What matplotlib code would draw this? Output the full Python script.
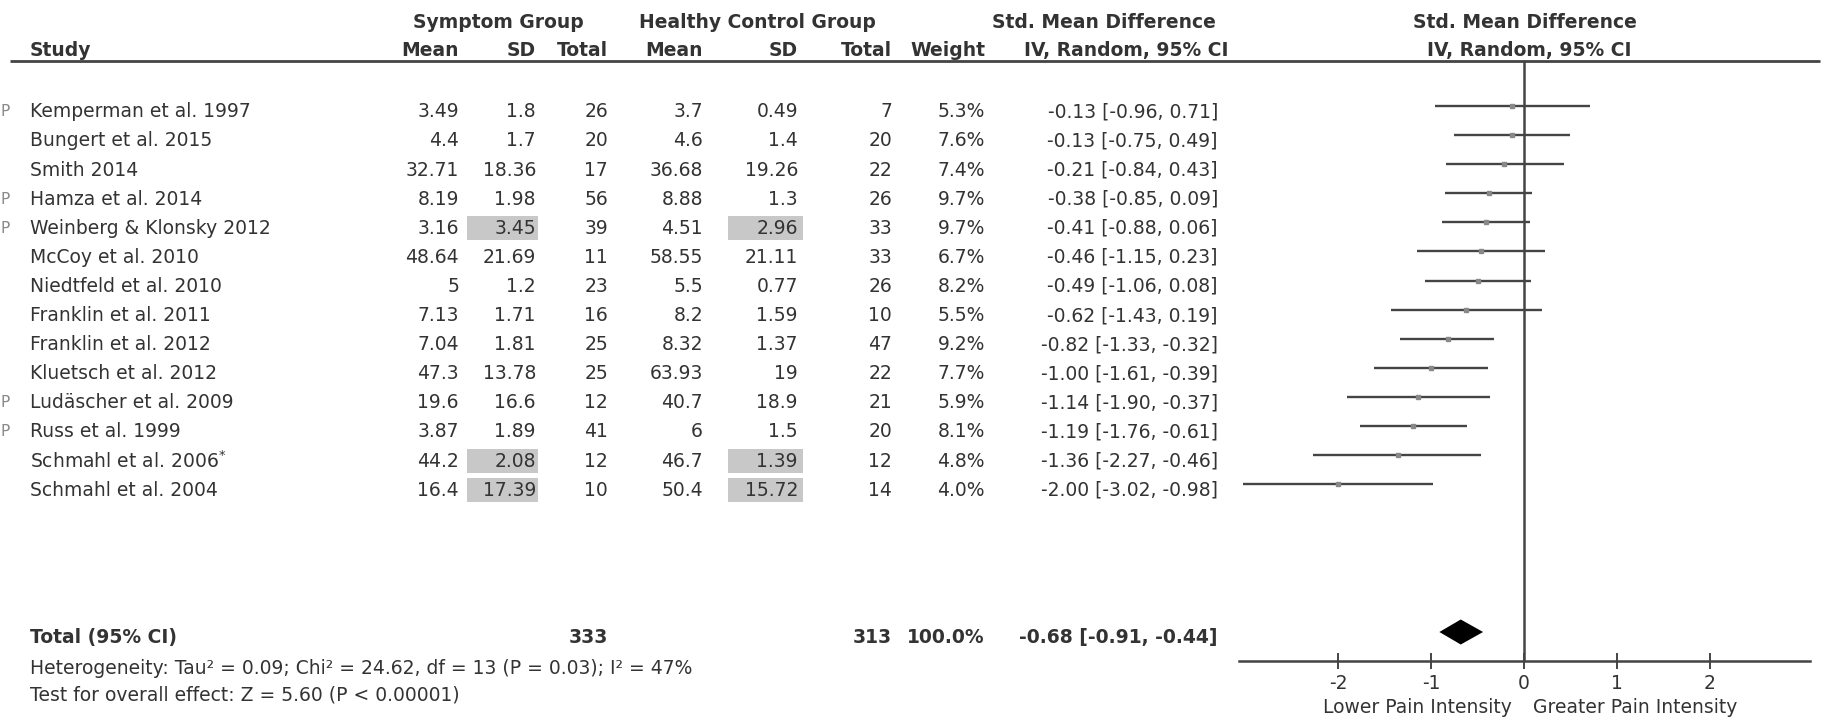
import matplotlib.pyplot as plt
from matplotlib.patches import Rectangle

studies = ["Kemperman et al. 1997", "Bungert et al. 2015", "Smith 2014", "Hamza et al. 2014",
           "Weinberg & Klonsky 2012", "McCoy et al. 2010", "Niedtfeld et al. 2010",
           "Franklin et al. 2011", "Franklin et al. 2012", "Kluetsch et al. 2012",
           "Ludäscher et al. 2009", "Russ et al. 1999", "Schmahl et al. 2006$^{*}$",
           "Schmahl et al. 2004"]
p_flag = [1, 0, 0, 1, 1, 0, 0, 0, 0, 0, 1, 1, 0, 0]
sym_mean = [3.49, 4.4, 32.71, 8.19, 3.16, 48.64, 5, 7.13, 7.04, 47.3, 19.6, 3.87, 44.2, 16.4]
sym_sd = [1.8, 1.7, 18.36, 1.98, 3.45, 21.69, 1.2, 1.71, 1.81, 13.78, 16.6, 1.89, 2.08, 17.39]
sym_n = [26, 20, 17, 56, 39, 11, 23, 16, 25, 25, 12, 41, 12, 10]
hc_mean = [3.7, 4.6, 36.68, 8.88, 4.51, 58.55, 5.5, 8.2, 8.32, 63.93, 40.7, 6, 46.7, 50.4]
hc_sd = [0.49, 1.4, 19.26, 1.3, 2.96, 21.11, 0.77, 1.59, 1.37, 19, 18.9, 1.5, 1.39, 15.72]
hc_n = [7, 20, 22, 26, 33, 33, 26, 10, 47, 22, 21, 20, 12, 14]
weight = [5.3, 7.6, 7.4, 9.7, 9.7, 6.7, 8.2, 5.5, 9.2, 7.7, 5.9, 8.1, 4.8, 4.0]
smd = [-0.13, -0.13, -0.21, -0.38, -0.41, -0.46, -0.49, -0.62, -0.82, -1.00, -1.14, -1.19, -1.36, -2.00]
ci_lo = [-0.96, -0.75, -0.84, -0.85, -0.88, -1.15, -1.06, -1.43, -1.33, -1.61, -1.90, -1.76, -2.27, -3.02]
ci_hi = [0.71, 0.49, 0.43, 0.09, 0.06, 0.23, 0.08, 0.19, -0.32, -0.39, -0.37, -0.61, -0.46, -0.98]
sd_shaded = [0, 0, 0, 0, 1, 0, 0, 0, 0, 0, 0, 0, 1, 1]

total_sym = 333
total_hc = 313
total_weight = 100.0
total_smd, total_lo, total_hi = -0.68, -0.91, -0.44
heterogeneity = "Heterogeneity: Tau² = 0.09; Chi² = 24.62, df = 13 (P = 0.03); I² = 47%"
overall = "Test for overall effect: Z = 5.60 (P < 0.00001)"
xticks = [-2, -1, 0, 1, 2]
favours = ["Lower Pain Intensity", "Greater Pain Intensity"]

# layout (pixels of the 1825x718 canvas)
W, H = 1825, 718
Y0, DY = 106, 29.1


def row(py):
    return (py - Y0) / DY


TXT = 0.2          # text sits a little below the CI line
TOTAL_ROW = row(632)
TXT_COL = "#333333"
LINE_COL = "#444444"
FS = 13.5

plt.rcParams["font.family"] = "DejaVu Sans"
plt.rcParams["mathtext.fontset"] = "dejavusans"

fig = plt.figure(figsize=(W / 100, H / 100), dpi=100)
ax = fig.add_axes([0, 0, 1, 1])
ax.set_xlim(0, W)
ax.set_ylim(row(H), row(0))
ax.axis("off")


def txt(x, y, s, ha="right", bold=False, size=FS, color=TXT_COL, **kw):
    ax.text(x, y, s, ha=ha, va="center", fontsize=size, color=color,
            fontweight="bold" if bold else "normal", zorder=3, **kw)


# header
h1, h2 = row(22), row(50)
txt(498, h1, "Symptom Group", ha="center", bold=True)
txt(757, h1, "Healthy Control Group", ha="center", bold=True)
txt(1104, h1, "Std. Mean Difference", ha="center", bold=True)
txt(1525, h1, "Std. Mean Difference", ha="center", bold=True)
txt(30, h2, "Study", ha="left", bold=True)
cols = [459, 536, 608, 703, 798, 892, 985]
for x, s in zip(cols, ["Mean", "SD", "Total", "Mean", "SD", "Total", "Weight"]):
    txt(x, h2, s, bold=True)
txt(1126, h2, "IV, Random, 95% CI", ha="center", bold=True)
txt(1529, h2, "IV, Random, 95% CI", ha="center", bold=True)
ax.plot([10, 1820], [row(61), row(61)], color=LINE_COL, lw=2, solid_capstyle="butt")

# study rows
for i, name in enumerate(studies):
    y = i + TXT
    if p_flag[i]:
        txt(1, y, "P", ha="left", size=11, color="#888888")
    txt(30, y, name, ha="left")
    if sd_shaded[i]:
        for x0, x1 in [(467, 538), (728, 803)]:
            ax.add_patch(Rectangle((x0, y - 0.42), x1 - x0, 0.84, color="#c8c8c8", lw=0, zorder=1))
    vals = [sym_mean[i], sym_sd[i], sym_n[i], hc_mean[i], hc_sd[i], hc_n[i]]
    for x, v in zip(cols[:6], vals):
        txt(x, y, f"{v:g}")
    txt(cols[6], y, f"{weight[i]:.1f}%")
    txt(1218, y, f"{smd[i]:.2f} [{ci_lo[i]:.2f}, {ci_hi[i]:.2f}]")

# totals and footnotes
yt = TOTAL_ROW + TXT
txt(30, yt, "Total (95% CI)", ha="left", bold=True)
txt(cols[2], yt, f"{total_sym}", bold=True)
txt(cols[5], yt, f"{total_hc}", bold=True)
txt(cols[6], yt, f"{total_weight:.1f}%", bold=True)
txt(1218, yt, f"{total_smd:.2f} [{total_lo:.2f}, {total_hi:.2f}]", bold=True)
txt(30, row(668), heterogeneity, ha="left")
txt(30, row(695), overall, ha="left")

# forest panel
fx0, fx1 = 1238.5, 1809.5
fy0, fy1 = 61, 661
axf = fig.add_axes([fx0 / W, 1 - fy1 / H, (fx1 - fx0) / W, (fy1 - fy0) / H])
axf.set_xlim(-3.07, 3.07)
axf.set_ylim(row(fy1), row(fy0))
axf.patch.set_alpha(0)
for s in ["top", "left", "right"]:
    axf.spines[s].set_visible(False)
axf.spines["bottom"].set_color(LINE_COL)
axf.spines["bottom"].set_linewidth(1.8)
axf.set_yticks([])
axf.set_xticks(xticks)
axf.set_xticklabels([f"{t:g}" for t in xticks])
axf.tick_params(axis="x", direction="inout", length=11, width=1.4, color=LINE_COL,
                labelsize=FS, labelcolor=TXT_COL, pad=4)
axf.axvline(0, color=LINE_COL, lw=1.8, zorder=1)

rows = list(range(len(studies)))
axf.hlines(rows, ci_lo, ci_hi, color=LINE_COL, lw=1.7, zorder=2)
axf.plot(smd, rows, "s", color="#888888", ms=2.5, zorder=3)

hd = 12.5 / DY
axf.fill([total_lo, total_smd, total_hi, total_smd],
         [TOTAL_ROW, TOTAL_ROW - hd, TOTAL_ROW, TOTAL_ROW + hd], color="black", lw=0, zorder=3)

yf = row(708)
axf.text(-0.13, yf, favours[0], ha="right", va="center", fontsize=FS, color=TXT_COL, clip_on=False)
axf.text(0.10, yf, favours[1], ha="left", va="center", fontsize=FS, color=TXT_COL, clip_on=False)

plt.savefig("out.png", dpi=100)
